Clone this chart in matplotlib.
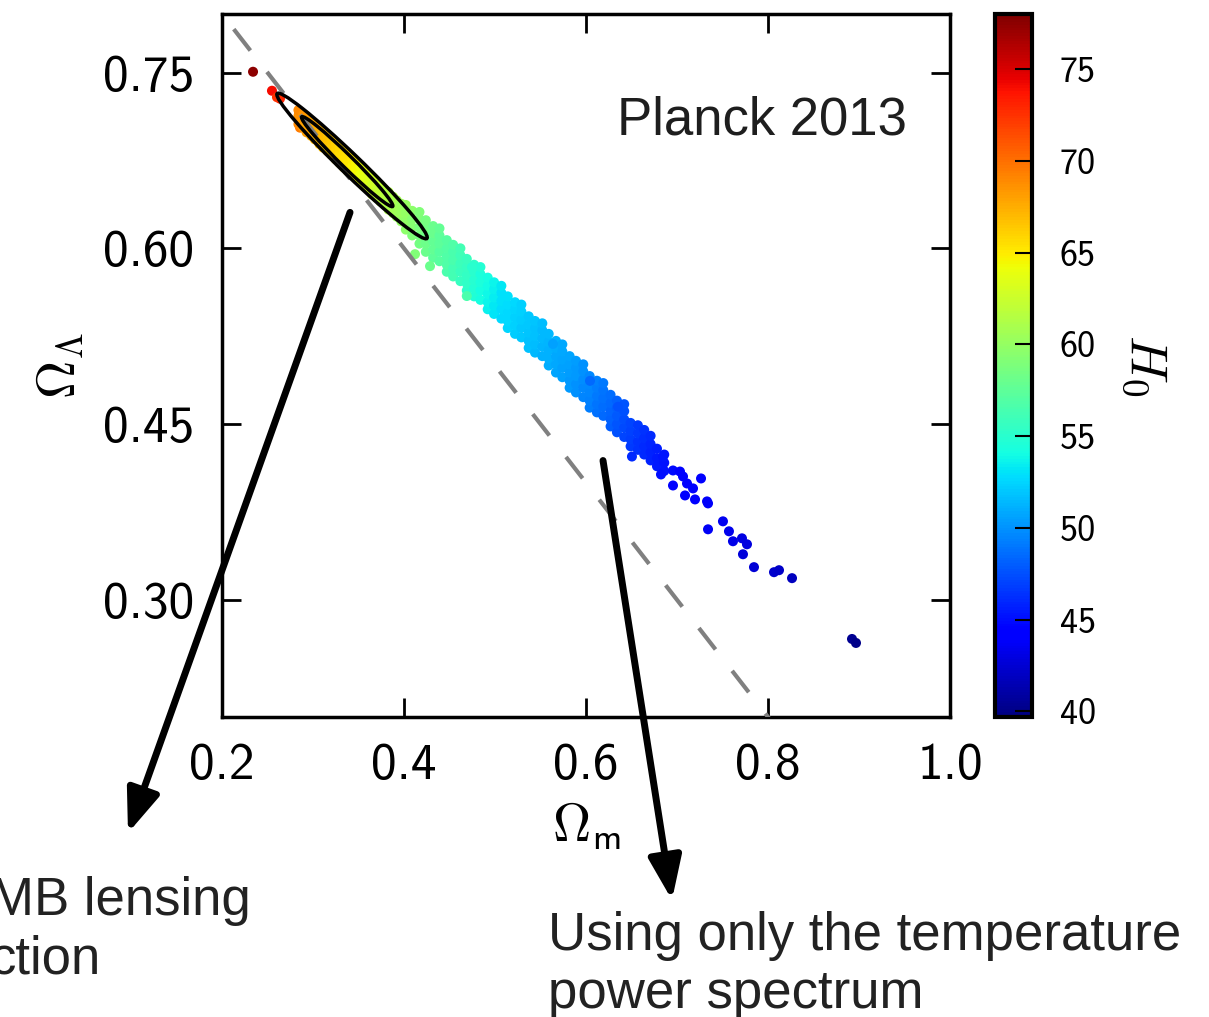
import matplotlib
matplotlib.use("Agg")
import matplotlib.pyplot as plt
from matplotlib.patches import Ellipse

# ---------------- data ----------------
# MCMC samples: Omega_m, Omega_Lambda, H0
om = [
    0.2341, 0.2549, 0.2637, 0.2604, 0.2846, 0.2857, 0.2890,
    0.284, 0.284, 0.284, 0.289, 0.289, 0.289, 0.293, 0.293, 0.293,
    0.298, 0.298, 0.298, 0.302, 0.302, 0.302, 0.307, 0.307, 0.307,
    0.311, 0.311, 0.311, 0.316, 0.316, 0.316, 0.320, 0.320, 0.320,
    0.325, 0.325, 0.325, 0.329, 0.329, 0.329, 0.334, 0.334, 0.334,
    0.338, 0.338, 0.338, 0.343, 0.343, 0.343, 0.347, 0.347, 0.347,
    0.352, 0.352, 0.352, 0.356, 0.356, 0.356, 0.361, 0.361, 0.361,
    0.365, 0.365, 0.365, 0.370, 0.370, 0.370, 0.374, 0.374, 0.374,
    0.379, 0.379, 0.379, 0.383, 0.383, 0.383, 0.388, 0.388, 0.388,
    0.392, 0.392, 0.392, 0.397, 0.397, 0.397,
    0.402, 0.402, 0.402, 0.402, 0.409, 0.409, 0.409, 0.409,
    0.417, 0.417, 0.417, 0.417, 0.417, 0.424, 0.424, 0.424, 0.424, 0.424,
    0.432, 0.432, 0.432, 0.432, 0.432, 0.439, 0.439, 0.439, 0.439, 0.439,
    0.447, 0.447, 0.447, 0.447, 0.447, 0.454, 0.454, 0.454, 0.454, 0.454,
    0.462, 0.462, 0.462, 0.462, 0.462, 0.469, 0.469, 0.469, 0.469, 0.469,
    0.477, 0.477, 0.477, 0.477, 0.477, 0.484, 0.484, 0.484, 0.484, 0.484,
    0.492, 0.492, 0.492, 0.492, 0.492, 0.499, 0.499, 0.499, 0.499, 0.499,
    0.507, 0.507, 0.507, 0.507, 0.507, 0.514, 0.514, 0.514, 0.514, 0.514,
    0.522, 0.522, 0.522, 0.522, 0.522, 0.529, 0.529, 0.529, 0.529, 0.529,
    0.537, 0.537, 0.537, 0.537, 0.537, 0.544, 0.544, 0.544, 0.544, 0.544,
    0.552, 0.552, 0.552, 0.552, 0.552, 0.559, 0.559, 0.559, 0.559, 0.559,
    0.567, 0.567, 0.567, 0.567, 0.567, 0.574, 0.574, 0.574, 0.574, 0.574,
    0.582, 0.582, 0.582, 0.582, 0.582, 0.589, 0.589, 0.589, 0.589, 0.589,
    0.597, 0.597, 0.597, 0.597, 0.597, 0.604, 0.604, 0.604, 0.604, 0.604,
    0.612, 0.612, 0.612, 0.612, 0.612, 0.619, 0.619, 0.619, 0.619, 0.619,
    0.627, 0.627, 0.627, 0.627, 0.627, 0.634, 0.634, 0.634, 0.634, 0.634,
    0.642, 0.642, 0.642, 0.642, 0.642, 0.649, 0.649, 0.649, 0.649,
    0.657, 0.657, 0.657, 0.657,
    0.664, 0.664, 0.664, 0.664, 0.671, 0.671, 0.671, 0.671,
    0.678, 0.678, 0.678, 0.686, 0.686, 0.686,
    0.6846, 0.6824, 0.6956, 0.6956, 0.7033, 0.7066, 0.7110, 0.7176, 0.7088,
    0.7198, 0.7264, 0.7330, 0.7341, 0.7341, 0.7505, 0.7571, 0.7714, 0.7615,
    0.7769, 0.7725, 0.7846, 0.8066, 0.8121, 0.8264, 0.8923, 0.8967,
    0.4121, 0.4286, 0.4690, 0.4747, 0.5637, 0.6044, 0.6352, 0.6505,
]
ol = [
    0.7507, 0.7345, 0.7277, 0.7290, 0.7149, 0.7030, 0.7056,
    0.706, 0.713, 0.718, 0.703, 0.709, 0.714, 0.699, 0.706, 0.711,
    0.696, 0.703, 0.708, 0.693, 0.699, 0.705, 0.689, 0.696, 0.701,
    0.686, 0.692, 0.699, 0.683, 0.689, 0.695, 0.680, 0.686, 0.692,
    0.676, 0.683, 0.689, 0.673, 0.680, 0.686, 0.669, 0.676, 0.683,
    0.666, 0.673, 0.680, 0.663, 0.670, 0.676, 0.660, 0.667, 0.673,
    0.656, 0.663, 0.670, 0.653, 0.660, 0.667, 0.650, 0.657, 0.663,
    0.646, 0.654, 0.661, 0.643, 0.650, 0.657, 0.640, 0.647, 0.654,
    0.637, 0.644, 0.650, 0.633, 0.641, 0.648, 0.630, 0.637, 0.644,
    0.627, 0.634, 0.641, 0.623, 0.631, 0.638,
    0.616, 0.623, 0.630, 0.637, 0.611, 0.618, 0.625, 0.632,
    0.604, 0.611, 0.618, 0.625, 0.631, 0.597, 0.604, 0.611, 0.618, 0.624,
    0.592, 0.599, 0.606, 0.613, 0.619, 0.589, 0.597, 0.604, 0.611, 0.617,
    0.580, 0.586, 0.593, 0.600, 0.607, 0.576, 0.583, 0.590, 0.597, 0.603,
    0.572, 0.580, 0.587, 0.594, 0.600, 0.564, 0.570, 0.577, 0.584, 0.591,
    0.559, 0.566, 0.573, 0.580, 0.586, 0.556, 0.564, 0.571, 0.578, 0.584,
    0.548, 0.554, 0.561, 0.568, 0.575, 0.544, 0.551, 0.558, 0.565, 0.571,
    0.540, 0.548, 0.555, 0.562, 0.568, 0.532, 0.538, 0.545, 0.552, 0.559,
    0.527, 0.534, 0.541, 0.548, 0.554, 0.524, 0.532, 0.539, 0.546, 0.552,
    0.515, 0.521, 0.528, 0.535, 0.542, 0.511, 0.518, 0.525, 0.532, 0.538,
    0.508, 0.516, 0.523, 0.530, 0.536, 0.500, 0.506, 0.513, 0.520, 0.527,
    0.494, 0.501, 0.508, 0.515, 0.521, 0.490, 0.498, 0.505, 0.512, 0.518,
    0.481, 0.487, 0.494, 0.501, 0.508, 0.477, 0.484, 0.491, 0.498, 0.504,
    0.473, 0.481, 0.488, 0.495, 0.501, 0.464, 0.470, 0.477, 0.484, 0.491,
    0.460, 0.467, 0.474, 0.481, 0.487, 0.457, 0.465, 0.472, 0.479, 0.485,
    0.448, 0.454, 0.461, 0.468, 0.475, 0.443, 0.450, 0.457, 0.464, 0.470,
    0.439, 0.447, 0.454, 0.461, 0.467, 0.431, 0.437, 0.444, 0.451,
    0.428, 0.435, 0.442, 0.449,
    0.424, 0.431, 0.438, 0.445, 0.419, 0.426, 0.433, 0.440,
    0.414, 0.421, 0.429, 0.410, 0.417, 0.424,
    0.4223, 0.4070, 0.4104, 0.3976, 0.4095, 0.4053, 0.3993, 0.3951, 0.3891,
    0.3857, 0.4036, 0.3840, 0.3823, 0.3602, 0.3670, 0.3585, 0.3525, 0.3500,
    0.3474, 0.3389, 0.3279, 0.3236, 0.3253, 0.3185, 0.2666, 0.2632,
    0.5950, 0.5848, 0.5593, 0.5839, 0.5184, 0.4869, 0.4648, 0.4223,
]
h0 = [
    77.5, 74.0, 73.0, 72.5, 70.5, 69.5, 69.0,
    69.0, 68.6, 68.9, 68.4, 68.2, 68.5, 68.1, 67.8, 68.2,
    67.5, 67.7, 67.9, 67.2, 67.4, 67.6, 67.0, 67.1, 67.3,
    66.6, 66.9, 67.0, 66.3, 66.5, 66.7, 66.0, 66.2, 66.4,
    65.8, 65.9, 66.1, 65.5, 65.6, 65.8, 65.2, 65.4, 65.5,
    65.0, 65.2, 65.3, 64.6, 64.8, 65.0, 64.3, 64.5, 64.6,
    63.8, 64.0, 64.2, 63.4, 63.6, 63.8, 63.0, 63.2, 63.4,
    62.6, 62.8, 63.0, 62.2, 62.4, 62.6, 61.8, 62.0, 62.2,
    61.4, 61.6, 61.8, 61.1, 61.3, 61.5, 60.7, 60.9, 61.1,
    60.4, 60.6, 60.8, 60.0, 60.2, 60.4,
    59.6, 59.8, 60.0, 60.1, 59.1, 59.3, 59.4, 59.6,
    58.5, 58.7, 58.8, 59.0, 59.1, 58.0, 58.2, 58.3, 58.5, 58.6,
    57.5, 57.7, 57.8, 58.0, 58.1, 57.1, 57.2, 57.4, 57.5, 57.7,
    56.6, 56.8, 56.9, 57.0, 57.2, 56.2, 56.3, 56.5, 56.6, 56.8,
    55.7, 55.8, 56.0, 56.1, 56.3, 55.2, 55.3, 55.5, 55.6, 55.8,
    54.6, 54.8, 54.9, 55.0, 55.2, 54.1, 54.2, 54.4, 54.5, 54.7,
    53.6, 53.7, 53.9, 54.0, 54.2, 53.1, 53.2, 53.4, 53.5, 53.7,
    52.7, 52.8, 52.9, 53.0, 53.2, 52.5, 52.6, 52.7, 52.8, 53.0,
    52.2, 52.3, 52.4, 52.5, 52.7, 52.0, 52.1, 52.2, 52.3, 52.4,
    51.7, 51.8, 51.9, 52.0, 52.1, 51.5, 51.6, 51.7, 51.8, 51.9,
    51.2, 51.3, 51.4, 51.5, 51.6, 51.0, 51.1, 51.2, 51.3, 51.4,
    50.7, 50.8, 50.9, 51.0, 51.1, 50.5, 50.6, 50.7, 50.8, 50.9,
    50.2, 50.3, 50.4, 50.5, 50.7, 49.9, 50.0, 50.2, 50.3, 50.4,
    49.5, 49.6, 49.8, 49.9, 50.0, 49.2, 49.3, 49.5, 49.6, 49.7,
    48.8, 48.9, 49.1, 49.2, 49.3, 48.5, 48.6, 48.8, 48.9, 49.0,
    48.0, 48.1, 48.3, 48.4, 48.6, 47.6, 47.7, 47.9, 48.0, 48.1,
    47.1, 47.2, 47.4, 47.5, 47.7, 46.7, 46.8, 47.0, 47.1,
    46.3, 46.4, 46.6, 46.7,
    46.0, 46.1, 46.2, 46.3, 45.7, 45.8, 45.9, 46.0,
    45.4, 45.5, 45.6, 45.1, 45.2, 45.3,
    45.3, 45.0, 44.8, 44.6, 44.6, 44.5, 44.4, 44.2, 44.3,
    44.1, 44.0, 43.8, 43.8, 43.6, 43.5, 43.3, 43.0, 43.2,
    42.9, 42.8, 42.6, 42.3, 42.2, 41.9, 40.3, 40.1,
    59.0, 58.0, 56.5, 55.0, 50.5, 48.5, 47.5, 46.0,
]

# 68% / 95% contours (centre, full length, full width, angle in data units)
contour_cx = [0.3376, 0.3429]
contour_cy = [0.6740, 0.6703]
contour_len = [0.1258, 0.2059]
contour_wid = [0.0114, 0.0190]
contour_ang = [-37.3, -36.8]

# flat universe line Omega_m + Omega_Lambda = 1 (clipped by the axes)
flat_om = [0.2, 0.85]
flat_ol = [0.8, 0.15]

xticks = [0.2, 0.4, 0.6, 0.8, 1.0]
xticklabels = ["0.2", "0.4", "0.6", "0.8", "1.0"]
yticks = [0.30, 0.45, 0.60, 0.75]
yticklabels = ["0.30", "0.45", "0.60", "0.75"]
cticks = [40, 45, 50, 55, 60, 65, 70, 75]
h0_min, h0_max = 39.7, 78.0

# ---------------- figure ----------------
plt.rcParams["font.family"] = ["cmss10", "DejaVu Sans"]
plt.rcParams["mathtext.fontset"] = "cm"
plt.rcParams["axes.unicode_minus"] = False

W, H = 1209, 1017
fig = plt.figure(figsize=(W / 100, H / 100), dpi=100)
ax = fig.add_axes([222 / W, 1 - 717 / H, 728 / W, 703 / H])
cax = fig.add_axes([995 / W, 1 - 717 / H, 37 / W, 703 / H])

sc = ax.scatter(om, ol, c=h0, cmap="jet", vmin=h0_min, vmax=h0_max,
                s=52, linewidths=0, zorder=2)

ax.plot(flat_om, flat_ol, color="#808080", lw=3,
        linestyle=(8.4, (6.5, 6.5)), zorder=3)

for cx, cy, L, Wd, A in zip(contour_cx, contour_cy, contour_len,
                            contour_wid, contour_ang):
    ax.add_patch(Ellipse((cx, cy), L, Wd, angle=A, fill=False,
                         ec="black", lw=2.5, zorder=4))

ax.set_xlim(0.2, 1.0)
ax.set_ylim(0.2, 0.8)
ax.set_xticks(xticks)
ax.set_xticklabels(xticklabels)
ax.set_yticks(yticks)
ax.set_yticklabels(yticklabels)
ax.tick_params(direction="in", length=14, width=2, top=True, right=True,
               labelsize=37)
ax.tick_params(axis="x", pad=19)
ax.tick_params(axis="y", pad=20)
for sp in ax.spines.values():
    sp.set_linewidth(2.5)

ax.set_xlabel(r"$\Omega_{\mathsf{m}}$", fontsize=38, labelpad=8)
ax.set_ylabel(r"$\Omega_{\Lambda}$", fontsize=38, labelpad=12)

ax.text(0.941, 0.828, "Planck 2013", transform=ax.transAxes, ha="right",
        va="baseline", fontsize=38, family="Liberation Sans", color="#1e1e1e")

cb = fig.colorbar(sc, cax=cax, ticks=cticks)
cb.outline.set_linewidth(3)
cax.tick_params(direction="in", length=12, width=1.5, labelsize=26, pad=20)
cb.set_label(r"$H_0$", rotation=270, fontsize=38, labelpad=52)

# annotations with arrows (va='baseline' aligns the last line's baseline)
fig.text(548 / W, 1 - 1008 / H, "Using only the temperature\npower spectrum",
         ha="left", va="baseline", fontsize=38, family="Liberation Sans",
         color="#222222")
fig.text(-10 / W, 1 - 973 / H, "MB lensing\nction",
         ha="left", va="baseline", fontsize=38, family="Liberation Sans",
         color="#222222")

arrow_kw = dict(arrowstyle="-|>,head_length=1.3,head_width=0.5",
                color="black", lw=5, shrinkA=0, shrinkB=0,
                mutation_scale=20)
ax.annotate("", xy=(128, H - 833), xycoords="figure pixels",
            xytext=(0.3407, 0.6307), textcoords="data",
            arrowprops=arrow_kw, annotation_clip=False, zorder=10)
ax.annotate("", xy=(672, H - 900), xycoords="figure pixels",
            xytext=(0.6187, 0.4189), textcoords="data",
            arrowprops=arrow_kw, annotation_clip=False, zorder=10)

fig.savefig("out.png", dpi=100)
